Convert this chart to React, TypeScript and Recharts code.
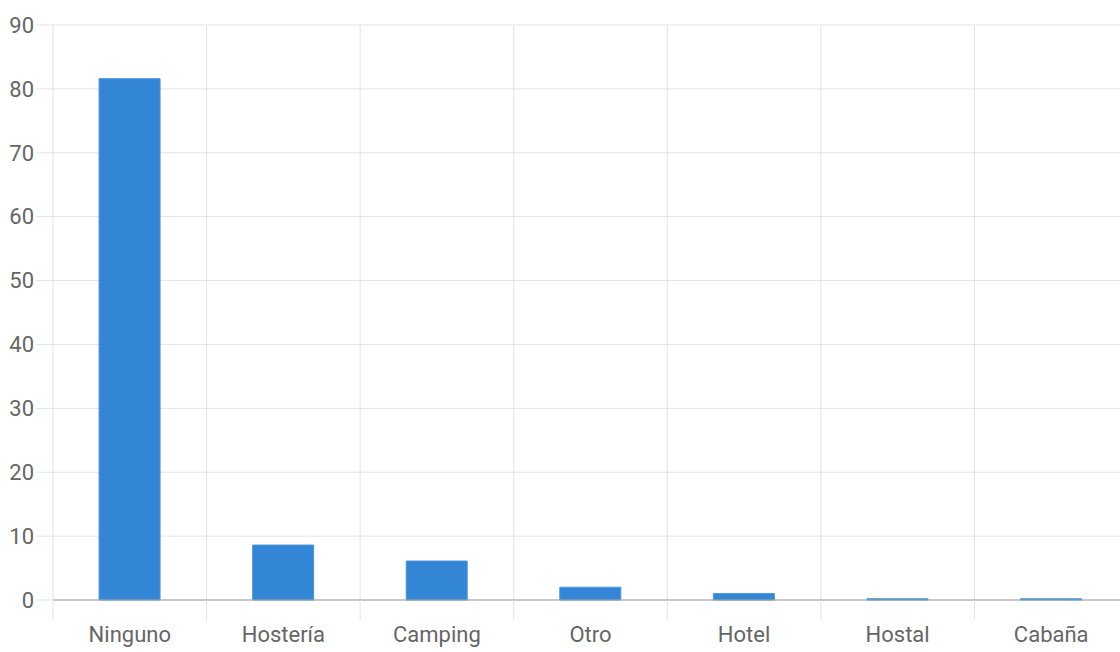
import { BarChart, Bar, XAxis, YAxis, CartesianGrid } from 'recharts'

const categories = ['Ninguno', 'Hostería', 'Camping', 'Otro', 'Hotel', 'Hostal', 'Cabaña']
const values = [81.6, 8.6, 6.1, 2.0, 1.0, 0.2, 0.2]
const yTicks = [0, 10, 20, 30, 40, 50, 60, 70, 80, 90]

const data = categories.map((name, i) => ({ name, value: values[i] }))

const GRID = '#e3e3e3'
const TEXT = '#666'
const FONT = 'Roboto, "Noto Sans", sans-serif'

// category label plus a small tick line on the left edge of each band
function CategoryTick(props: any) {
  const { x, y, payload } = props
  const half = payload?.offset ?? 76.8
  return (
    <g>
      <line x1={x - half} x2={x - half} y1={y} y2={y + 20} stroke={GRID} />
      <text x={x} y={y + 42} textAnchor="middle" fill={TEXT} fontSize={22} fontFamily={FONT}>
        {payload.value}
      </text>
    </g>
  )
}

export default function App() {
  return (
    <div
      style={{
        position: 'absolute',
        left: 0,
        top: 0,
        width: 1120,
        height: 652,
        overflow: 'hidden',
        background: '#fff',
      }}
    >
      <BarChart
        width={1128}
        height={652}
        data={data}
        margin={{ top: 25, right: 0, bottom: 0, left: 0 }}
        barCategoryGap="30%"
      >
        <CartesianGrid
          stroke={GRID}
          verticalCoordinatesGenerator={({ offset }: any) =>
            categories.map((_, i) => offset.left + (i * offset.width) / categories.length)
          }
        />
        <YAxis
          width={53}
          domain={[0, 90]}
          ticks={yTicks}
          interval={0}
          axisLine={false}
          tickSize={17}
          tickMargin={2}
          tickLine={{ stroke: GRID }}
          tick={{ fill: TEXT, fontSize: 22, fontFamily: FONT }}
        />
        <XAxis
          dataKey="name"
          height={52}
          interval={0}
          axisLine={{ stroke: '#a0a0a0' }}
          tickLine={false}
          tickSize={0}
          tickMargin={0}
          tick={<CategoryTick />}
        />
        <Bar dataKey="value" fill="#3386d5" stroke="#4b96dc" strokeWidth={1} isAnimationActive={false} />
      </BarChart>
    </div>
  )
}
